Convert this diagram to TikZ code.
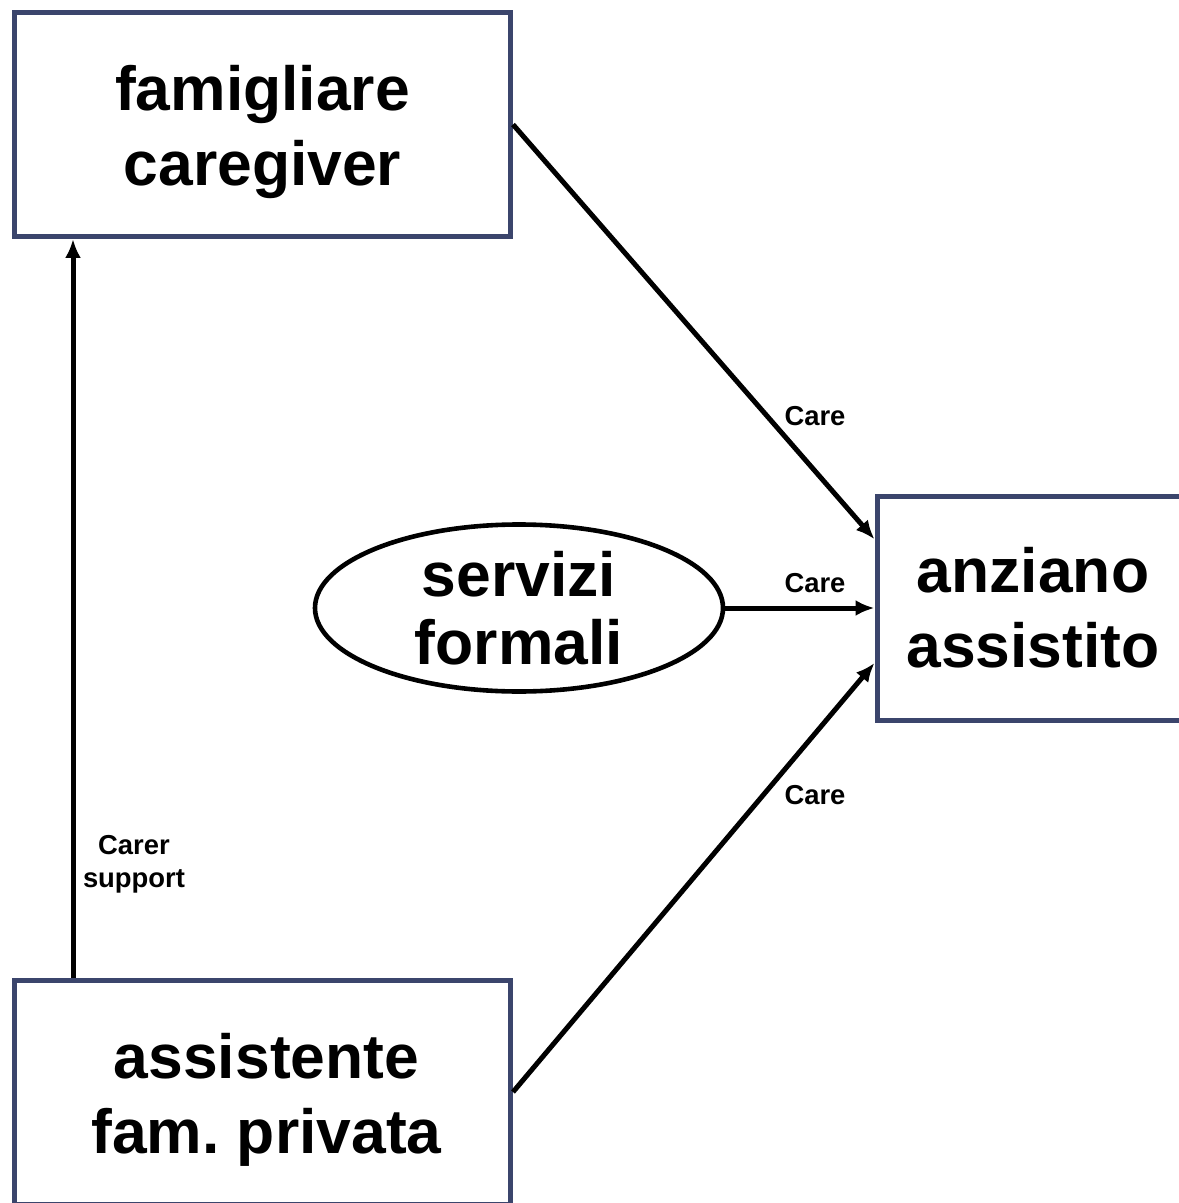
\documentclass[tikz,border=0pt]{standalone}
\usepackage{fontspec}
\setmainfont{Liberation Sans}
\usetikzlibrary{shapes.geometric,arrows.meta,calc}
\frenchspacing
\definecolor{boxline}{RGB}{59,69,108}
\tikzset{
  actor/.style={draw=boxline,line width=2.5pt,rectangle,minimum width=248pt,minimum height=112pt,inner sep=0pt,align=center,font=\bfseries\fontsize{31.2}{37.5}\selectfont},
  svc/.style={draw=black,line width=2.3pt,ellipse,minimum width=204pt,minimum height=83.5pt,inner sep=0pt,align=center,font=\bfseries\fontsize{31.2}{34}\selectfont},
  flow/.style={line width=2.5pt,-{Latex[length=9.5pt,width=8pt]}},
  lab/.style={font=\bfseries\fontsize{13.7}{16.5}\selectfont,align=center,inner sep=0pt},
}
\newcommand{\lowstrut}{\rule{0pt}{30pt}}
\begin{document}
\begin{tikzpicture}[x=0.5pt,y=-0.5pt]
  \useasboundingbox (0,0) rectangle (1178,1203);
  \node[actor] (fam) at (262.5,124.5) {\lowstrut famigliare\\caregiver};
  \node[actor,minimum width=156pt] (anz) at (1033,608) {anziano\\assistito};
  \node[actor] (ass) at (262.5,1092) {\lowstrut\hspace{4pt}assistente\\\hspace{4pt}fam. privata};
  \node[svc] (srv) at (519,608) {servizi\\formali};
  \coordinate (anzA) at ($(anz.north west)!0.2!(anz.south west)$);
  \coordinate (anzC) at ($(anz.north west)!0.74!(anz.south west)$);
  \coordinate (assUp) at ($(ass.north west)+(61,0)$);
  \coordinate (famDn) at ($(fam.south west)+(61,0)$);
  \draw[flow] (fam.east) -- (anzA);
  \draw[flow] (srv.east) -- (anz.west);
  \draw[flow] (ass.east) -- (anzC);
  \draw[flow] (assUp) -- (famDn);
  \node[lab] (care1) at (815,416) {Care};
  \node[lab] (care2) at (815,583) {Care};
  \node[lab] (care3) at (815,795) {Care};
  \node[lab] (csup) at (134,864) {Carer\\support};
\end{tikzpicture}
\end{document}
